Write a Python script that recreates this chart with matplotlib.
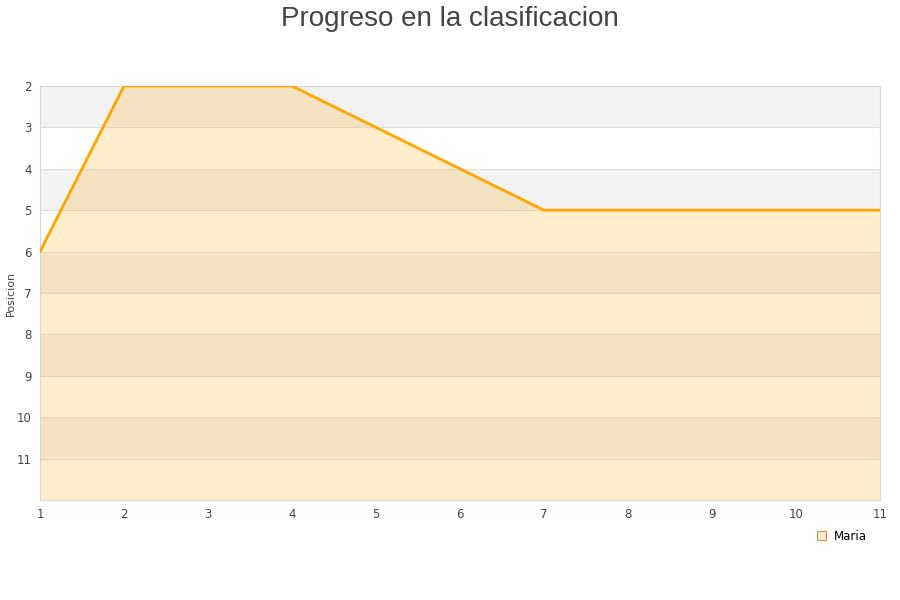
import matplotlib
matplotlib.use("Agg")
import matplotlib.pyplot as plt
from matplotlib.patches import Patch

# datos de la grafica
jornadas = [1, 2, 3, 4, 5, 6, 7, 8, 9, 10, 11]
posicion = [6, 2, 2, 2, 3, 4, 5, 5, 5, 5, 5]
ytick_vals = [2, 3, 4, 5, 6, 7, 8, 9, 10, 11]
jugador = "Maria"

fig = plt.figure(figsize=(9, 6), dpi=100)
ax = fig.add_axes([40 / 900, 1 - 500 / 600, 840 / 900, 414 / 600])

# franjas alternas del fondo
for y0 in range(2, 12, 2):
    ax.axhspan(y0, y0 + 1, color="#f2f2f2", zorder=0, lw=0)
for y in range(3, 12):
    ax.axhline(y, color="#e0e0e0", lw=0.8, zorder=1)

ax.fill_between(jornadas, posicion, 12, color="#ffa500", alpha=0.2, lw=0, zorder=2)
ax.plot(jornadas, posicion, color="#ffa500", lw=2, zorder=3)

ax.set_xlim(1, 11)
ax.set_ylim(12, 2)
ax.set_xticks(jornadas)
ax.set_yticks(ytick_vals)
ax.tick_params(length=0, labelsize=8.5, colors="#444444", pad=6)
for s in ax.spines.values():
    s.set_color("#d8d8d8")
ax.set_ylabel("Posicion", fontsize=8, color="#444444")
ax.yaxis.set_label_coords(-24 / 840, 0.5)

fig.suptitle("Progreso en la clasificacion", fontsize=20, color="#444444",
             family="Liberation Sans", y=0.99)

handle = Patch(facecolor="#ffebcc", edgecolor="#b89860", lw=0.8, label=jugador)
fig.legend(handles=[handle], loc="center", bbox_to_anchor=(842 / 900, 1 - 536 / 600),
           frameon=False, fontsize=8.5, handlelength=0.7, handleheight=0.7,
           handletextpad=0.7)

fig.savefig("out.png")
